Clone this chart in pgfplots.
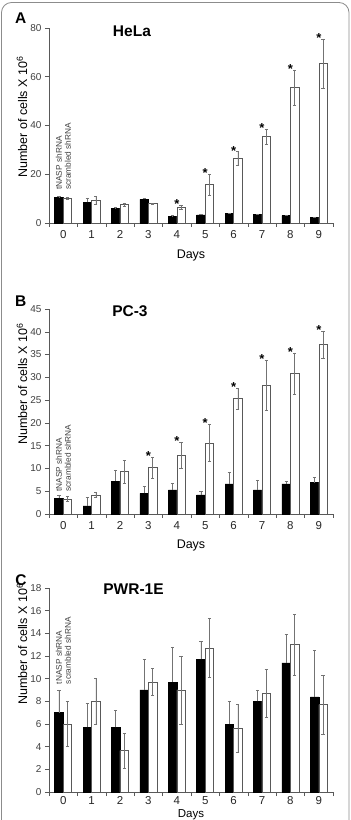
\documentclass[border=0pt]{standalone}
\usepackage{fontspec}
\setmainfont{Liberation Sans}
\usepackage{pgfplots}
\pgfplotsset{compat=1.18}
\usepackage{pgfplotstable}

\pgfplotstableread{
day b be w we
0 10.4 0.4 10.3 0.4
1 8.5 1.8 9.4 1.6
2 5.9 0.7 7.5 0.8
3 9.7 0.5 7.9 0.3
4 2.7 0.3 6.4 0.8
5 3.3 0.4 15.7 4.4
6 3.8 0.3 26.5 2.8
7 3.4 0.3 35.4 3.0
8 3.0 0.3 55.6 7.2
9 2.2 0.2 65.5 10.0
}\helaTable

\pgfplotstableread{
day b be w we
0 3.5 0.7 3.3 0.6
1 1.8 1.9 4.2 0.6
2 7.2 2.5 9.3 2.5
3 4.5 1.5 10.2 2.3
4 5.3 1.5 12.9 2.9
5 4.2 0.7 15.6 4.1
6 6.6 2.5 25.3 2.3
7 5.3 2.2 28.2 5.5
8 6.6 0.6 30.8 4.6
9 6.9 1.1 37.2 3.0
}\pcTable

\pgfplotstableread{
day b be w we
0 7.0 2.0 6.0 2.0
1 5.7 2.1 8.0 2.0
2 5.7 1.5 3.65 1.55
3 9.0 2.7 9.7 1.2
4 9.7 3.1 9.0 3.0
5 11.7 1.6 12.7 2.6
6 6.0 2.0 5.65 2.1
7 8.0 1.0 8.7 2.1
8 11.4 2.5 13.0 2.7
9 8.4 4.1 7.7 2.6
}\pwrTable

\pgfplotsset{
  cellaxis/.style={
    scale only axis, width=284pt,
    xmin=-0.5, xmax=9.5, ymin=0,
    axis x line*=bottom, axis y line*=left,
    axis line style={black!65, line width=0.6pt},
    xtick={-0.5,0.5,...,9.5},
    xticklabels={0,1,2,3,4,5,6,7,8,9,{}},
    xticklabel style={xshift=14.2pt, font=\fontsize{11.5}{12}\selectfont, text=black!85},
    yticklabel style={font=\fontsize{10}{11}\selectfont, text=black!75},
    tick align=outside, major tick length=4pt,
    tick style={black!65, line width=0.5pt},
    /pgf/number format/assume math mode=true,
    ybar=0pt, bar width=8.5pt,
    clip=false,
    title style={font=\bfseries\fontsize{15.5}{16}\selectfont, anchor=center},
    xlabel={Days},
    xlabel style={font=\fontsize{12.5}{13}\selectfont, anchor=north, inner sep=0pt},
    ylabel={Number of cells X 10\textsuperscript{6}},
    ylabel style={font=\fontsize{12.5}{13}\selectfont, anchor=center},
  },
  blackbar/.style={fill=black, draw=black, line width=0.5pt,
    error bars/.cd, y dir=plus, y explicit,
    error bar style={black!55, line width=0.5pt},
    error mark options={rotate=90, black!55, mark size=1.6pt}},
  whitebar/.style={fill=white, draw=black!65, line width=0.5pt,
    error bars/.cd, y dir=both, y explicit,
    error bar style={black!55, line width=0.5pt},
    error mark options={rotate=90, black!55, mark size=1.6pt}},
}
\tikzset{
  sigstar/.style={font=\bfseries\fontsize{13}{13}\selectfont, anchor=base, inner sep=0pt, yshift=-3.5pt},
  legtext/.style={rotate=90, anchor=west, inner sep=0pt, font=\fontsize{8.3}{9}\selectfont, text=black!75},
  panelletter/.style={font=\bfseries\fontsize{15.5}{16}\selectfont},
}

\begin{document}
\begin{tikzpicture}
\useasboundingbox (0,0) rectangle (351pt,820pt);
\draw[black!45, line width=0.8pt, rounded corners=10pt] (1.5pt,-20pt) rectangle (349pt,817.5pt);

% Panel A
\begin{axis}[cellaxis, at={(49pt,597pt)}, anchor=south west, height=195pt,
  ymax=80, ytick={0,20,40,60,80},
  title={HeLa}, title style={at={(axis description cs:0.292,0.951)}},
  xlabel style={at={(axis description cs:0.5,-0.1385)}},
  ylabel style={at={(axis description cs:-0.095,0.544)}}]
\addplot[blackbar] table[x=day, y=b, y error=be] {\helaTable};
\addplot[whitebar] table[x=day, y=w, y error=we] {\helaTable};
\node[sigstar] at (axis cs:4,7.2) {*};
\node[sigstar] at (axis cs:5,20.1) {*};
\node[sigstar] at (axis cs:6,29.3) {*};
\node[sigstar] at (axis cs:7,38.4) {*};
\node[sigstar] at (axis cs:8,62.8) {*};
\node[sigstar] at (axis cs:9,75.5) {*};
\node[legtext] at (axis cs:-0.15,13.5) {tNASP shRNA};
\node[legtext] at (axis cs:0.165,13.5) {scrambled shRNA};
\node[panelletter] at (axis description cs:-0.100,1.049) {A};
\end{axis}

% Panel B
\begin{axis}[cellaxis, at={(49pt,306pt)}, anchor=south west, height=205pt,
  ymax=45, ytick={0,5,...,45},
  title={PC-3}, title style={at={(axis description cs:0.285,0.959)}},
  xlabel style={at={(axis description cs:0.5,-0.127)}},
  ylabel style={at={(axis description cs:-0.095,0.634)}}]
\addplot[blackbar] table[x=day, y=b, y error=be] {\pcTable};
\addplot[whitebar] table[x=day, y=w, y error=we] {\pcTable};
\node[sigstar] at (axis cs:3,12.5) {*};
\node[sigstar] at (axis cs:4,15.8) {*};
\node[sigstar] at (axis cs:5,19.7) {*};
\node[sigstar] at (axis cs:6,27.6) {*};
\node[sigstar] at (axis cs:7,33.7) {*};
\node[sigstar] at (axis cs:8,35.4) {*};
\node[sigstar] at (axis cs:9,40.2) {*};
\node[legtext] at (axis cs:-0.15,4.9) {tNASP shRNA};
\node[legtext] at (axis cs:0.165,4.9) {scrambled shRNA};
\node[panelletter] at (axis description cs:-0.100,1.037) {B};
\end{axis}

% Panel C
\begin{axis}[cellaxis, at={(49pt,28pt)}, anchor=south west, height=204pt,
  ymax=18, ytick={0,2,...,18},
  xticklabel style={yshift=3pt},
  title={PWR-1E}, title style={at={(axis description cs:0.2975,0.966)}},
  xlabel style={at={(axis description cs:0.5,-0.083)}, font=\fontsize{11.5}{12}\selectfont},
  ylabel style={at={(axis description cs:-0.095,0.725)}}]
\addplot[blackbar] table[x=day, y=b, y error=be] {\pwrTable};
\addplot[whitebar] table[x=day, y=w, y error=we] {\pwrTable};
\node[legtext] at (axis cs:-0.15,9.5) {tNASP shRNA};
\node[legtext] at (axis cs:0.165,9.5) {scrambled shRNA};
\node[panelletter] at (axis description cs:-0.099,1.037) {C};
\end{axis}
\end{tikzpicture}
\end{document}
